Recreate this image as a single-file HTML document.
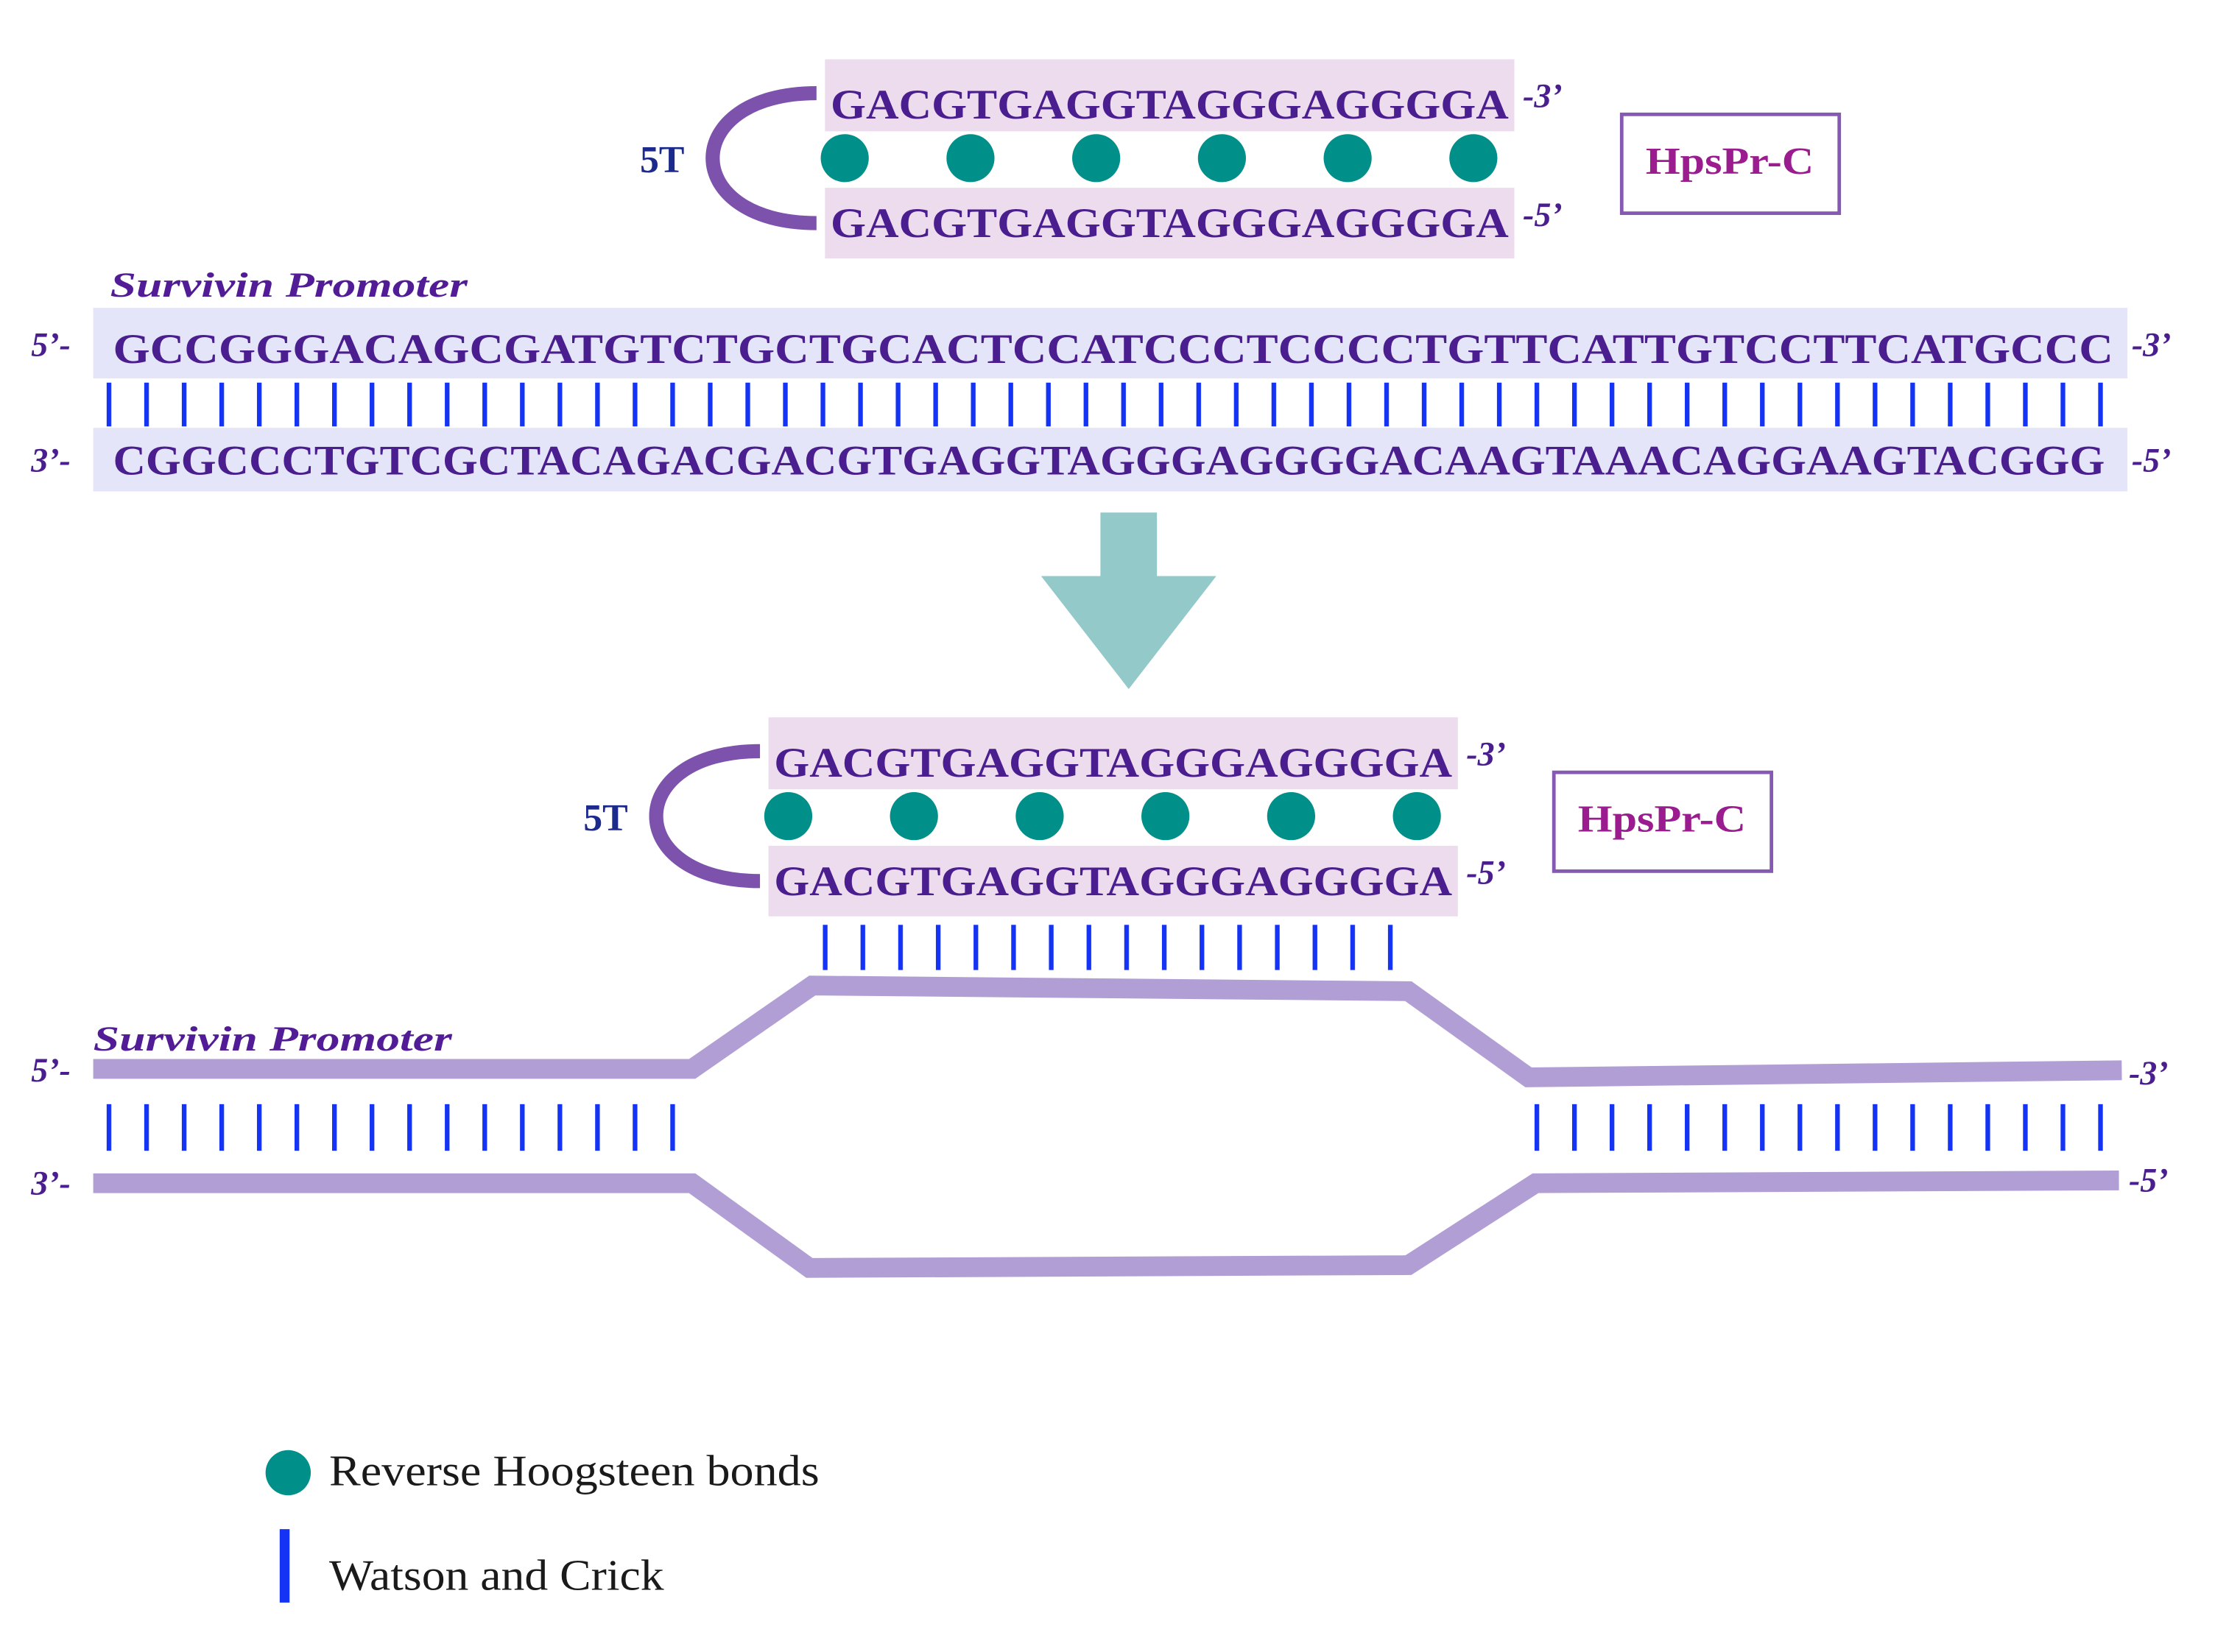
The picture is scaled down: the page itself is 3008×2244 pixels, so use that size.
<!DOCTYPE html>
<html><head><meta charset="utf-8"><style>html,body{margin:0;padding:0;background:#fff}svg{display:block}</style></head><body>
<svg width="3008" height="2244" viewBox="0 0 1568 1170" preserveAspectRatio="none" xmlns="http://www.w3.org/2000/svg">
<defs>
<pattern id="pA" patternUnits="userSpaceOnUse" x="75.5" y="0" width="26.6" height="10"><rect x="0" y="0" width="3.3" height="10" fill="#1433f5"/></pattern>
<pattern id="pB" patternUnits="userSpaceOnUse" x="582.5" y="0" width="26.67" height="10"><rect x="0" y="0" width="3.3" height="10" fill="#1433f5"/></pattern>
</defs>
<rect width="1568" height="1170" fill="#fff"/>
<g font-family="Liberation Serif, serif" font-weight="bold">
<rect x="584" y="42" width="488" height="51" fill="#ecdcee"/>
<rect x="584" y="133" width="488" height="50" fill="#ecdcee"/>
<path d="M578,66 C480,66 480,158 578,158" fill="none" stroke="#7d52ad" stroke-width="10"/>
<text x="588" y="84" font-size="30" fill="#4a1e8e" textLength="480" lengthAdjust="spacingAndGlyphs">GACGTGAGGTAGGGAGGGGA</text>
<text x="588" y="168" font-size="30" fill="#4a1e8e" textLength="480" lengthAdjust="spacingAndGlyphs">GACGTGAGGTAGGGAGGGGA</text>
<g fill="#008f89"><circle cx="598" cy="112" r="17"/><circle cx="687" cy="112" r="17"/><circle cx="776" cy="112" r="17"/><circle cx="865" cy="112" r="17"/><circle cx="954" cy="112" r="17"/><circle cx="1043" cy="112" r="17"/></g>
<text x="453" y="122" font-size="27" fill="#1c2a8c">5T</text>
<text x="1078" y="76" font-size="24" font-style="italic" fill="#4a1e8e">-3’</text>
<text x="1078" y="160" font-size="24" font-style="italic" fill="#4a1e8e">-5’</text>
<rect x="1148" y="81" width="154" height="70" fill="none" stroke="#8659b3" stroke-width="2.5"/>
<text x="1165" y="123" font-size="27" fill="#9a1c8e" textLength="119" lengthAdjust="spacingAndGlyphs">HpsPr-C</text>
<text x="78" y="210" font-size="25" font-style="italic" fill="#531c97" textLength="253" lengthAdjust="spacingAndGlyphs">Survivin Promoter</text>
<rect x="66" y="218" width="1440" height="50" fill="#e5e5fa"/>
<rect x="66" y="303" width="1440" height="45" fill="#e5e5fa"/>
<text x="80" y="257" font-size="30" fill="#4a1e8e" textLength="1416" lengthAdjust="spacingAndGlyphs">GCCGGGACAGCGATGTCTGCTGCACTCCATCCCTCCCCTGTTCATTGTCCTTCATGCCC</text>
<text x="80" y="336" font-size="30" fill="#4a1e8e" textLength="1410" lengthAdjust="spacingAndGlyphs">CGGCCCTGTCGCTACAGACGACGTGAGGTAGGGAGGGGACAAGTAAACAGGAAGTACGGG</text>
<rect x="75" y="271" width="1415" height="31" fill="url(#pA)"/>
<text x="22" y="252" font-size="24" font-style="italic" fill="#4a1e8e">5’-</text>
<text x="22" y="334" font-size="24" font-style="italic" fill="#4a1e8e">3’-</text>
<text x="1509" y="252" font-size="24" font-style="italic" fill="#4a1e8e">-3’</text>
<text x="1509" y="334" font-size="24" font-style="italic" fill="#4a1e8e">-5’</text>
<rect x="779" y="363" width="40" height="47" fill="#93c9c8"/>
<polygon points="737,408 861,408 799,488" fill="#93c9c8"/>
<rect x="544" y="508" width="488" height="51" fill="#ecdcee"/>
<rect x="544" y="599" width="488" height="50" fill="#ecdcee"/>
<path d="M538,532 C440,532 440,624 538,624" fill="none" stroke="#7d52ad" stroke-width="10"/>
<text x="548" y="550" font-size="30" fill="#4a1e8e" textLength="480" lengthAdjust="spacingAndGlyphs">GACGTGAGGTAGGGAGGGGA</text>
<text x="548" y="634" font-size="30" fill="#4a1e8e" textLength="480" lengthAdjust="spacingAndGlyphs">GACGTGAGGTAGGGAGGGGA</text>
<g fill="#008f89"><circle cx="558" cy="578" r="17"/><circle cx="647" cy="578" r="17"/><circle cx="736" cy="578" r="17"/><circle cx="825" cy="578" r="17"/><circle cx="914" cy="578" r="17"/><circle cx="1003" cy="578" r="17"/></g>
<text x="413" y="588" font-size="27" fill="#1c2a8c">5T</text>
<text x="1038" y="542" font-size="24" font-style="italic" fill="#4a1e8e">-3’</text>
<text x="1038" y="626" font-size="24" font-style="italic" fill="#4a1e8e">-5’</text>
<rect x="1100" y="547" width="154" height="70" fill="none" stroke="#8659b3" stroke-width="2.5"/>
<text x="1117" y="589" font-size="27" fill="#9a1c8e" textLength="119" lengthAdjust="spacingAndGlyphs">HpsPr-C</text>
<rect x="582" y="655" width="405" height="32" fill="url(#pB)"/>
<polyline points="66,757 490,757 575,698 997,702 1082,763 1502,758" fill="none" stroke="#b19ed4" stroke-width="14" stroke-linejoin="miter"/>
<polyline points="66,838 490,838 573,898 997,896 1087,838 1500,836" fill="none" stroke="#b19ed4" stroke-width="14" stroke-linejoin="miter"/>
<text x="66" y="744" font-size="25" font-style="italic" fill="#531c97" textLength="254" lengthAdjust="spacingAndGlyphs">Survivin Promoter</text>
<rect x="75" y="782" width="405" height="33" fill="url(#pA)"/>
<rect x="1086" y="782" width="404" height="33" fill="url(#pA)"/>
<text x="22" y="766" font-size="24" font-style="italic" fill="#4a1e8e">5’-</text>
<text x="22" y="846" font-size="24" font-style="italic" fill="#4a1e8e">3’-</text>
<text x="1507" y="768" font-size="24" font-style="italic" fill="#4a1e8e">-3’</text>
<text x="1507" y="844" font-size="24" font-style="italic" fill="#4a1e8e">-5’</text>
</g>
<circle cx="204" cy="1043" r="16" fill="#008f89"/>
<text x="233" y="1052" font-family="Liberation Serif, serif" font-size="31" fill="#1a1a1a" textLength="347" lengthAdjust="spacingAndGlyphs">Reverse Hoogsteen bonds</text>
<rect x="198" y="1083" width="7" height="52" fill="#1433f5"/>
<text x="233" y="1126" font-family="Liberation Serif, serif" font-size="31" fill="#1a1a1a" textLength="237" lengthAdjust="spacingAndGlyphs">Watson and Crick</text>
</svg>
</body></html>
